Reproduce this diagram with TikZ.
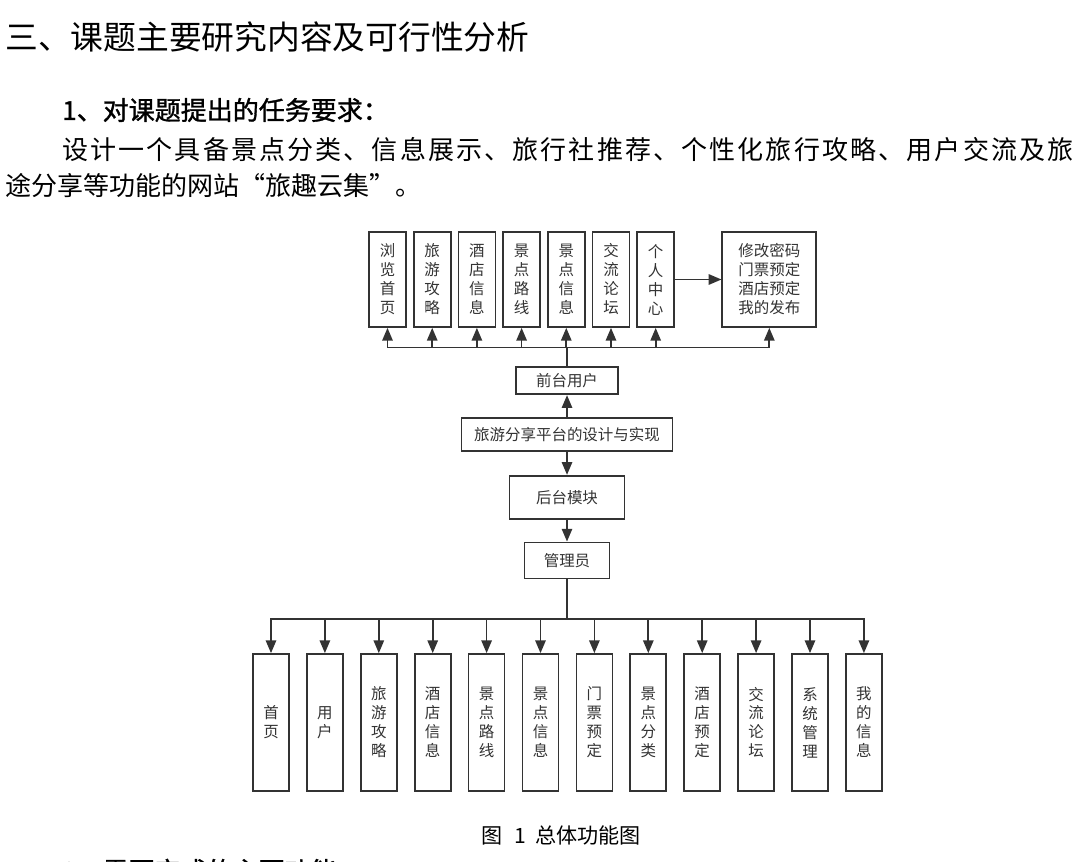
\documentclass[tikz,border=0pt]{standalone}
\usepackage{fontspec}
\setmainfont{Noto Sans CJK SC}
\usepackage{xcolor}
\definecolor{lineDark}{HTML}{333333}
\definecolor{textDark}{HTML}{333333}
\usepackage{tikz}
\usetikzlibrary{positioning,calc,arrows.meta}
\tikzset{%
  funcBox/.style={%
    rectangle,
    draw=lineDark,
    line width=1.2pt,
    fill=white,
    text=textDark,
    inner sep=0pt,
    align=center,
    font=\fontsize{11}{13.5}\selectfont
  },
  topBox/.style={%
    funcBox,
    minimum width=0.925cm,
    minimum height=2.375cm
  },
  bottomBox/.style={%
    funcBox,
    minimum width=0.9cm,
    minimum height=3.425cm
  },
  arrowLine/.style={%
    -{Triangle[length=3.2mm,width=2.6mm]},
    line width=1.2pt,
    color=lineDark
  },
  docText/.style={%
    anchor=west,
    inner sep=0pt,
    text=black
  }
}

\begin{document}
\begin{tikzpicture}[x=0.025cm,y=-0.025cm]
  \fill[white] (0,0) rectangle (1080,862);
  \useasboundingbox (0,0) rectangle (1080,862);

  % text of the page
  \node[docText, font=\fontsize{23.3}{28}\selectfont] (heading) at (5,37) {三、课题主要研究内容及可行性分析};
  \node[docText, font=\fontsize{18.5}{22}\selectfont\addfontfeature{FakeBold=1.2}] (taskTitle) at (62,110) {1、对课题提出的任务要求：};
  \node[docText, font=\fontsize{18.5}{22}\selectfont\addfontfeature{LetterSpace=8.2}] (taskLineA) at (62,150) {设计一个具备景点分类、信息展示、旅行社推荐、个性化旅行攻略、用户交流及旅};
  \node[docText, font=\fontsize{18.5}{22}\selectfont] (taskLineB) at (5,186) {途分享等功能的网站“旅趣云集”。};
  \node[docText, font=\fontsize{15}{18}\selectfont, anchor=center] (caption) at (561,835) {图\hspace{0.55em}1\hspace{0.45em}总体功能图};
  \node[docText, font=\fontsize{18.5}{22}\selectfont\addfontfeature{FakeBold=1.2}] (funcTitle) at (62,871) {2、需要完成的主要功能：};

  % front end
  \node[topBox] (browse) at (387.5,279.5) {浏\\览\\首\\页};
  \node[topBox, right=0.15cm of browse] (guide) {旅\\游\\攻\\略};
  \node[topBox, right=0.15cm of guide] (hotelInfo) {酒\\店\\信\\息};
  \node[topBox, right=0.15cm of hotelInfo] (spotRoute) {景\\点\\路\\线};
  \node[topBox, right=0.15cm of spotRoute] (spotInfo) {景\\点\\信\\息};
  \node[topBox, right=0.15cm of spotInfo] (forum) {交\\流\\论\\坛};
  \node[topBox, right=0.15cm of forum] (personal) {个\\人\\中\\心};
  \node[topBox, minimum width=2.35cm, right=1.16cm of personal] (personalSub) {修改密码\\门票预定\\酒店预定\\我的发布};

  \draw[arrowLine] (personal) -- (personalSub);

  % middle column
  \node[funcBox, minimum width=5.275cm, minimum height=0.825cm] (platform) at (567,434.5) {旅游分享平台的设计与实现};
  \node[funcBox, minimum width=2.55cm, minimum height=0.675cm, above=0.55cm of platform] (frontUser) {前台用户};
  \node[funcBox, minimum width=2.875cm, minimum height=1.075cm, below=0.575cm of platform] (backend) {后台模块};
  \node[funcBox, minimum width=2.125cm, minimum height=0.9cm, below=0.55cm of backend] (admin) {管理员};

  \draw[arrowLine] (platform) -- (frontUser);
  \draw[arrowLine] (platform) -- (backend);
  \draw[arrowLine] (backend) -- (admin);

  \coordinate (topBus) at ($(frontUser.north)+(0,-19)$);
  \draw[arrowLine] (frontUser.north) -- (topBus) -| (browse.south);
  \draw[arrowLine] (topBus) -| (personalSub.south);
  \draw[arrowLine] (topBus -| guide) -- (guide.south);
  \draw[arrowLine] (topBus -| hotelInfo) -- (hotelInfo.south);
  \draw[arrowLine] (topBus -| spotRoute) -- (spotRoute.south);
  \draw[arrowLine] (topBus -| spotInfo) -- (spotInfo.south);
  \draw[arrowLine] (topBus -| forum) -- (forum.south);
  \draw[arrowLine] (topBus -| personal) -- (personal.south);

  % back end
  \node[bottomBox] (home) at (271,722.5) {首\\页};
  \node[bottomBox, right=0.405cm of home] (users) {用\\户};
  \node[bottomBox, right=0.405cm of users] (guideAdm) {旅\\游\\攻\\略};
  \node[bottomBox, right=0.405cm of guideAdm] (hotelAdm) {酒\\店\\信\\息};
  \node[bottomBox, right=0.405cm of hotelAdm] (routeAdm) {景\\点\\路\\线};
  \node[bottomBox, right=0.405cm of routeAdm] (spotAdm) {景\\点\\信\\息};
  \node[bottomBox, right=0.405cm of spotAdm] (ticketAdm) {门\\票\\预\\定};
  \node[bottomBox, right=0.405cm of ticketAdm] (classAdm) {景\\点\\分\\类};
  \node[bottomBox, right=0.405cm of classAdm] (bookAdm) {酒\\店\\预\\定};
  \node[bottomBox, right=0.405cm of bookAdm] (forumAdm) {交\\流\\论\\坛};
  \node[bottomBox, right=0.405cm of forumAdm] (systemAdm) {系\\统\\管\\理};
  \node[bottomBox, right=0.405cm of systemAdm] (myInfo) {我\\的\\信\\息};

  \coordinate (botBus) at ($(admin.south)+(0,40)$);
  \draw[arrowLine] (admin.south) -- (botBus) -| (home.north);
  \draw[arrowLine] (botBus) -| (myInfo.north);
  \draw[arrowLine] (botBus -| users) -- (users.north);
  \draw[arrowLine] (botBus -| guideAdm) -- (guideAdm.north);
  \draw[arrowLine] (botBus -| hotelAdm) -- (hotelAdm.north);
  \draw[arrowLine] (botBus -| routeAdm) -- (routeAdm.north);
  \draw[arrowLine] (botBus -| spotAdm) -- (spotAdm.north);
  \draw[arrowLine] (botBus -| ticketAdm) -- (ticketAdm.north);
  \draw[arrowLine] (botBus -| classAdm) -- (classAdm.north);
  \draw[arrowLine] (botBus -| bookAdm) -- (bookAdm.north);
  \draw[arrowLine] (botBus -| forumAdm) -- (forumAdm.north);
  \draw[arrowLine] (botBus -| systemAdm) -- (systemAdm.north);
\end{tikzpicture}
\end{document}
